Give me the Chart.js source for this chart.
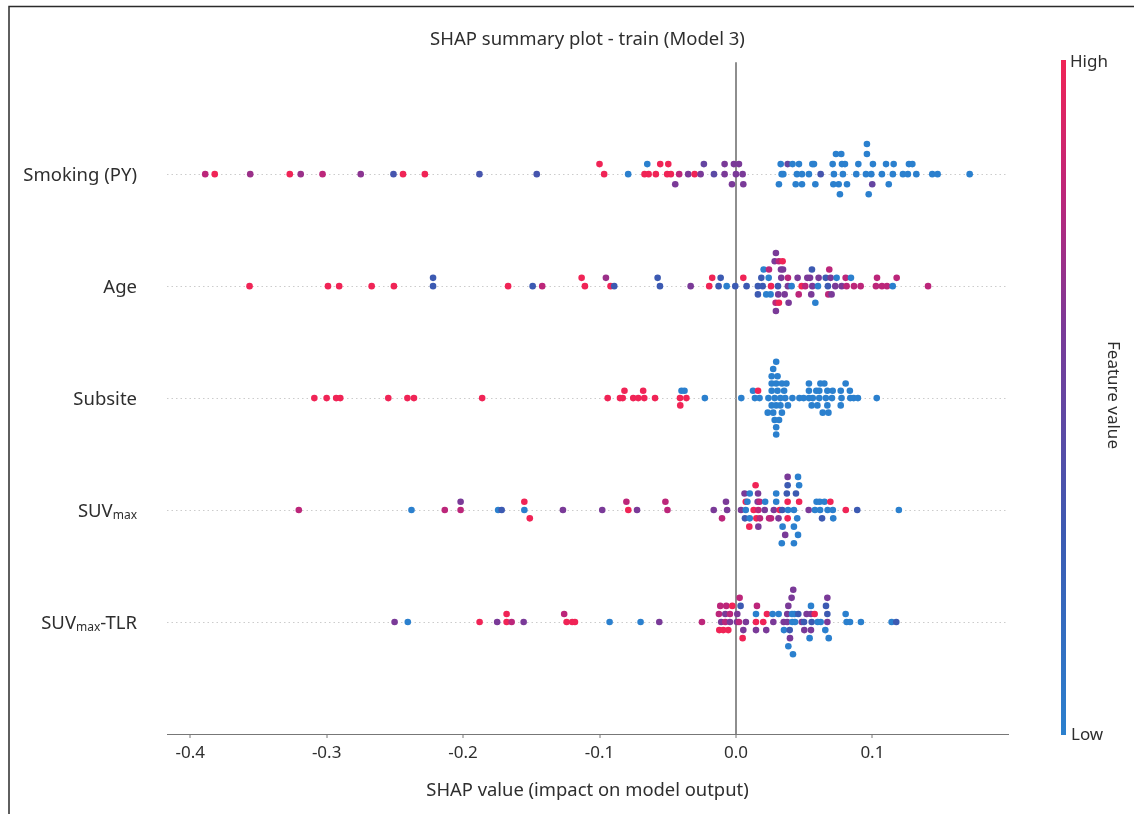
<!DOCTYPE html>
<html><head><meta charset="utf-8">
<script src="https://cdn.jsdelivr.net/npm/chart.js@4.4.1/dist/chart.umd.min.js"></script>
<style>html,body{margin:0;padding:0;background:#fff;}canvas{display:block;}</style>
</head><body>
<canvas id="c" width="1134" height="814"></canvas>
<script>
// ---------------- DATA ----------------
const featureNames = ['Smoking (PY)', 'Age', 'Subsite', 'SUVmax', 'SUVmax-TLR'];
const xTickValues = [-0.4, -0.3, -0.2, -0.1, 0.0, 0.1];

// feature value: 1 = high (red) ... 0 = low (blue)
const smokingShap = [-0.389,-0.382,-0.356,-0.327,-0.319,-0.303,-0.275,-0.251,-0.244,-0.228,-0.188,-0.146,
 -0.100,-0.0966,-0.079,-0.065,-0.067,-0.064,-0.0587,-0.0555,-0.0496,-0.0504,-0.0477,-0.0416,-0.0445,-0.035,-0.0303,-0.0259,-0.0235,-0.0161,-0.0083,-0.0083,-0.0029,-0.0015,0.0022,0.0,0.0049,0.0054,
 0.0328,0.0335,0.0347,0.0315,0.0379,0.0415,0.0462,0.0447,0.0484,0.0438,0.0484,0.0535,0.056,0.0572,0.0582,0.0621,0.0709,0.0733,0.0772,0.0718,0.0714,0.0753,0.0762,0.0777,0.0799,0.0784,0.0814,0.0897,0.0882,0.096,0.096,0.0953,0.0992,0.1004,0.0999,0.0973,0.107,0.110,0.112,0.115,0.1156,0.1224,0.126,0.1268,0.1293,0.1322,0.1439,0.1478,0.1713];
const smokingLayer = [0,0,0,0,0,0,0,0,0,0,0,0,
 1,0,0,1,0,0,0,1,1,0,0,0,-1,0,0,0,1,0,1,0,-1,1,1,0,0,-1,
 1,0,0,-1,1,1,1,0,0,-1,-1,0,1,1,-1,0,1,2,2,0,-1,-1,-2,1,1,0,-1,1,0,3,2,0,0,1,-1,-2,0,1,-1,0,1,0,0,1,1,0,0,0,0];
const smokingFeature = [0.8,1,0.7,1,0.7,0.8,0.65,0.35,1,1,0.35,0.35,
 1,1,0,0,1,1,1,1,1,1,1,0.8,0.6,0.6,1,0.6,0.5,0.45,0.6,0.6,0.6,0.6,0.6,0.6,0.6,0.6,
 0,0,0,0,0.5,0,0,0,0,0,0,0,0,0,0,0.35,0,0,0,0,0,0,0,0,0,0,0,0,0,0,0,0,0,0,0.5,0,0,0,0,0,0,0,0,0,0,0,0,0,0];

const ageShap = [-0.3565,-0.299,-0.2908,-0.267,-0.2507,-0.222,-0.222,-0.167,-0.149,-0.142,
 -0.1131,-0.1107,-0.0953,-0.0919,-0.0892,-0.0574,-0.0557,-0.0332,-0.0196,-0.0174,-0.0127,-0.0112,-0.0068,-0.0005,0.0054,0.0078,
 0.0161,0.0161,0.0186,0.0196,0.0203,0.0222,0.024,0.0242,0.0257,0.0254,0.0284,0.0293,0.0291,0.0293,0.0308,0.031,0.0315,0.0315,0.0342,0.033,0.0345,0.0332,0.0357,
 0.0381,0.0381,0.0386,0.0408,0.0452,0.046,0.0482,0.0508,0.0523,0.0543,0.0552,0.0557,0.056,0.0582,0.0601,0.0606,0.0658,0.0674,0.0677,0.0701,0.0684,0.0694,
 0.0728,0.0738,0.0775,0.0804,0.0811,0.0843,0.0865,0.0914,0.1034,0.1026,0.107,0.1107,0.1149,0.1178,0.1408];
const ageLayer = [0,0,0,0,0,1,0,0,0,0,
 1,0,1,0,0,1,0,0,0,1,0,1,0,0,1,0,
 0,-1,1,0,2,-1,1,2,0,-1,3,4,-2,-3,0,-1,-2,3,3,2,2,1,-1,
 1,0,-2,0,1,-1,0,0,1,1,-1,2,0,-2,0,1,1,0,-1,-1,2,1,
 0,1,0,1,0,1,0,0,1,0,0,0,0,1,0];
const ageFeature = [1,1,1,1,1,0.3,0.3,1,0.3,0.8,
 1,1,0.7,1,0.3,0.3,0.3,0.6,1,1,0.3,0.3,0,0.3,1,0.3,
 0.3,0.3,0.3,0.3,0,0,0,0.8,1,0,0.6,0.6,0.8,0.6,0.3,0.6,1,0.8,1,0.6,0.6,0.6,0.6,
 0.8,0.6,0.6,0,0.6,0.8,1,0.8,0.6,0.6,0.6,0.3,0.6,0,0,0.6,0.3,0.3,0.8,0.6,0.8,0.6,
 0.6,0,0.6,0.8,0.8,0,0.8,0.8,0.8,0.8,0.8,0.8,0,0.8,0.8];

const subsiteShap = [-0.309,-0.300,-0.293,-0.290,-0.2548,-0.2408,-0.236,-0.186,-0.094,-0.085,-0.083,-0.0817,-0.0753,-0.0716,-0.068,-0.0672,-0.0593,-0.041,-0.0363,-0.0408,-0.0399,-0.0377,-0.0228,
 0.0295,0.0273,0.0262,0.0305,
 0.0262,0.0295,0.0337,0.037,0.0535,0.0619,0.0648,0.0804,
 0.0125,0.0162,0.0262,0.0305,0.0353,0.0535,0.0589,0.0611,0.067,0.0709,0.0768,0.0835,
 0.0039,0.0139,0.0173,0.0238,0.0284,0.0326,0.0361,0.0414,0.0465,0.0496,0.0535,0.0563,0.0611,0.0659,0.0704,0.0774,0.0838,0.0863,0.0894,0.1032,
 0.0262,0.0295,0.0326,0.0381,0.0555,0.0597,0.067,0.0768,
 0.0233,0.0273,0.0337,0.0636,0.0678,
 0.0284,0.0316,0.0295,0.0295];
const subsiteLayer = [0,0,0,0,0,0,0,0,0,0,0,1,0,0,1,0,0,0,0,-1,1,1,0,
 5,4,3,3,
 2,2,2,2,2,2,2,2,
 1,1,1,1,1,1,1,1,1,1,1,1,
 0,0,0,0,0,0,0,0,0,0,0,0,0,0,0,0,0,0,0,0,
 -1,-1,-1,-1,-1,-1,-1,-1,
 -2,-2,-2,-2,-2,
 -3,-3,-4,-5];
const subsiteFeature = [1,1,1,1,1,1,1,1,1,1,1,1,1,1,1,1,1,1,1,1,0,0,0,
 0,0,0,0,
 0,0,0,0,0,0,0,0,
 0,1,0,0,0,0,0,0,0,0,0,0,
 0,0,0,0,0,0,0,0,0,0,0,0,0,0,0,0,0,0,0,0,
 0,0,0,0,0,0,0,0,
 0,0,0,0,0,
 0,0,0,0];

const suvShap = [-0.3204,-0.2378,-0.2134,-0.2018,-0.2018,-0.1743,-0.1717,-0.1551,-0.1551,-0.1511,-0.1268,-0.098,-0.0803,-0.0789,-0.0725,-0.0517,-0.0502,
 0.0379,0.0455,
 0.0144,0.0379,0.0463,
 0.0063,0.0101,0.0162,0.0295,0.0373,0.044,
 -0.0073,0.0072,0.0084,0.0159,0.0173,0.0214,0.0295,0.0379,0.0463,0.0591,0.0614,0.0649,0.0692,
 -0.0163,-0.0065,0.0037,0.0072,0.013,0.0164,0.0211,0.0278,0.0321,0.0339,0.0382,0.0425,0.0533,0.0579,0.0617,0.0672,0.071,0.0805,0.0889,0.1194,
 -0.0102,0.0066,0.0101,0.015,0.0176,0.0243,0.0257,0.0312,0.0379,0.0449,0.0631,0.0713,
 0.0098,0.0164,0.0342,0.0425,
 0.0361,0.0455,
 0.0336,0.0425];
const suvLayer = [0,0,0,1,0,0,0,1,0,-1,0,0,1,0,0,1,0,
 4,4,
 3,3,3,
 2,2,2,2,2,2,
 1,1,1,1,1,1,1,1,1,1,1,1,1,
 0,0,0,0,0,0,0,0,0,0,0,0,0,0,0,0,0,0,0,0,
 -1,-1,-1,-1,-1,-1,-1,-1,-1,-1,-1,-1,
 -2,-2,-2,-2,
 -3,-3,
 -4,-4];
const suvFeature = [0.8,0,0.8,0.6,0.8,0,0.3,1,0,1,0.6,0.6,0.8,1,0.6,0.8,0.8,
 0.6,0,
 1,0.3,0,
 0.6,0,0.6,0,0.3,0.3,
 0.6,1,0,0.6,0.8,0,0,1,1,0,0,0,1,
 0.6,0.6,0.6,0,1,0.8,0.6,0.6,1,0.3,0,0,0.6,0,0,0,0,1,0.3,0,
 0.8,0.3,0,1,0.8,0.8,0.8,0.6,1,0,0.3,0,
 1,0.6,0,0,
 0.6,0,
 0,0];

const tlrShap = [-0.2502,-0.2405,-0.1879,-0.175,-0.1681,-0.1681,-0.1644,-0.1556,-0.1259,-0.1241,-0.12,-0.118,-0.0926,-0.0699,-0.0562,-0.0249,
 0.042,
 0.0027,0.0408,0.067,
 -0.0115,-0.0071,-0.0027,0.0034,0.0154,0.0384,0.055,0.066,
 -0.0125,-0.0078,-0.0044,0.001,0.0147,0.0227,0.0269,0.0313,0.0376,0.0411,0.0428,0.0457,0.0518,0.055,0.0577,0.067,0.0804,
 -0.0108,-0.0078,-0.0044,0.0007,0.0022,0.0073,0.0147,0.02,0.0274,0.035,0.0376,0.0413,0.0433,0.0482,0.0499,0.0555,0.0599,0.0621,0.067,0.0811,0.0836,0.0916,0.1141,0.1175,
 -0.0122,-0.0093,-0.0056,0.0054,0.0147,0.0222,0.0352,0.0394,0.0501,0.055,0.0655,
 0.0049,0.0396,0.054,0.068,
 0.0384,
 0.0418];
const tlrLayer = [0,0,0,0,1,0,0,0,1,0,0,0,0,0,0,0,
 4,
 3,3,3,
 2,2,2,2,2,2,2,2,
 1,1,1,1,1,1,1,1,1,1,1,1,1,1,1,1,1,
 0,0,0,0,0,0,0,0,0,0,0,0,0,0,0,0,0,0,0,0,0,0,0,0,
 -1,-1,-1,-1,-1,-1,-1,-1,-1,-1,-1,
 -2,-2,-2,-2,
 -3,
 -4];
const tlrFeature = [0.6,0,1,0.6,1,1,0.8,0.6,0.8,1,1,1,0,0,0.6,0.8,
 0.6,
 0.8,0.6,0.6,
 0.8,0.8,1,0.3,0.8,0.6,0,0.3,
 0.8,0.6,0.8,0.6,0,1,0,0,0.6,0,0,0.3,0.6,0.6,1,0.3,0,
 0.6,0.8,0.6,0.6,0.8,0.6,1,1,0.6,0.6,0.6,0,0,0.6,0.3,0.3,0,0,0.6,0,0,0,0,0.3,
 1,1,1,0.6,0.6,0.6,0,0.3,0.6,0.6,0,
 1,0.6,0,0,
 0,
 0];

// ---------------- RENDERING ----------------
const FONT = '"Noto Sans", "Open Sans", sans-serif';
const TEXT = '#2e2e2e';
const rows = [
  {x: smokingShap, layer: smokingLayer, feat: smokingFeature, spread: 0.09},
  {x: ageShap, layer: ageLayer, feat: ageFeature, spread: 0.074},
  {x: subsiteShap, layer: subsiteLayer, feat: subsiteFeature, spread: 0.065},
  {x: suvShap, layer: suvLayer, feat: suvFeature, spread: 0.074},
  {x: tlrShap, layer: tlrLayer, feat: tlrFeature, spread: 0.072}
];
const stops = [[0,[43,128,206]],[0.3,[60,90,178]],[0.6,[122,58,152]],[0.8,[188,38,122]],[1,[240,36,86]]];
function colorFor(v){
  for (let i=1;i<stops.length;i++){
    if (v <= stops[i][0]) {
      const [a,ca] = stops[i-1], [b,cb] = stops[i];
      const t = (v-a)/(b-a);
      const c = ca.map((k,j)=>Math.round(k+(cb[j]-k)*t));
      return `rgb(${c[0]},${c[1]},${c[2]})`;
    }
  }
  const c = stops[stops.length-1][1]; return `rgb(${c[0]},${c[1]},${c[2]})`;
}

const datasets = rows.map((r,i)=>({
  label: featureNames[i],
  data: r.x.map((v,j)=>({x:v, y:(featureNames.length - i) + r.layer[j]*r.spread})),
  pointBackgroundColor: r.feat.map(colorFor),
  pointBorderWidth: 0,
  pointRadius: 3.3,
  pointHoverRadius: 3.3,
  showLine: false
}));

const labelParts = featureNames.map(n => {
  if (n.startsWith('SUVmax')) return [['SUV',false],['max',true],[n.slice(6),false]];
  return [[n,false]];
});

const extras = {
  id: 'extras',
  afterDraw(chart){
    const ctx = chart.ctx, ys = chart.scales.y;
    ctx.save();
    // frame
    ctx.strokeStyle = '#2b2b2b'; ctx.lineWidth = 1.5;
    ctx.beginPath(); ctx.moveTo(9,814); ctx.lineTo(9,6.5); ctx.lineTo(1134,6.5); ctx.stroke();
    // feature labels
    ctx.fillStyle = TEXT; ctx.textBaseline = 'alphabetic'; ctx.textAlign = 'left';
    labelParts.forEach((parts,i)=>{
      const y = ys.getPixelForValue(featureNames.length - i);
      let w = 0;
      parts.forEach(([t,sub])=>{ ctx.font = (sub?'12px ':'18.5px ')+FONT; w += ctx.measureText(t).width; });
      let x = 137 - w;
      parts.forEach(([t,sub])=>{
        ctx.font = (sub?'12px ':'18.5px ')+FONT;
        ctx.fillText(t, x, y + (sub ? 9 : 6.5));
        x += ctx.measureText(t).width;
      });
    });
    // colour bar
    const top = 60, bot = 735;
    const g = ctx.createLinearGradient(0, bot, 0, top);
    stops.forEach(([s,c])=>g.addColorStop(s, `rgb(${c[0]},${c[1]},${c[2]})`));
    ctx.fillStyle = g; ctx.fillRect(1061, top, 5, bot-top);
    ctx.fillStyle = TEXT; ctx.font = '17px '+FONT; ctx.textBaseline = 'middle';
    ctx.fillText('High', 1070, 62);
    ctx.fillText('Low', 1071, 735);
    ctx.translate(1113, 395); ctx.rotate(Math.PI/2); ctx.textAlign = 'center';
    ctx.fillText('Feature value', 0, 0);
    ctx.restore();
  }
};

new Chart(document.getElementById('c'), {
  type: 'scatter',
  data: {datasets},
  plugins: [extras],
  options: {
    responsive: false, animation: false,
    layout: {padding: {left: 167, right: 126, top: 0, bottom: 0}},
    plugins: {
      legend: {display: false}, tooltip: {enabled: false},
      title: {display: true, text: 'SHAP summary plot - train (Model 3)', fullSize: false, color: TEXT,
        font: {family: FONT, size: 18.5, weight: 'normal'}, padding: {top: 29, bottom: 11}}
    },
    scales: {
      x: {
        type: 'linear', min: -0.417, max: 0.1994,
        afterFit: s => { s.height = 80; },
        afterBuildTicks: s => { s.ticks = xTickValues.map(v => ({value: v})); },
        ticks: {stepSize: 0.1, includeBounds: false, autoSkip: false, maxRotation: 0, padding: 5, color: TEXT,
          font: {family: FONT, size: 17}, callback: v => (Math.abs(v) < 1e-9 ? 0 : v).toFixed(1)},
        grid: {
          color: c => (c.tick && Math.abs(c.tick.value) < 1e-9) ? '#8e8e8e' : 'rgba(0,0,0,0)',
          lineWidth: 2, tickColor: '#777', tickLength: 4, tickWidth: 1, drawTicks: true
        },
        border: {display: true, color: '#777', width: 1},
        title: {display: true, text: 'SHAP value (impact on model output)', color: TEXT,
          font: {family: FONT, size: 18.4}, padding: {top: 0, bottom: 12}}
      },
      y: {
        type: 'linear', min: 0, max: 6,
        afterFit: s => { s.width = 0; },
        ticks: {display: false, stepSize: 1},
        grid: {
          color: c => (c.tick && c.tick.value >= 1 && c.tick.value <= 5) ? '#cccccc' : 'rgba(0,0,0,0)',
          drawTicks: false, lineWidth: 1
        },
        border: {display: false, dash: [1.5, 3]}
      }
    }
  }
});
</script>
</body></html>
